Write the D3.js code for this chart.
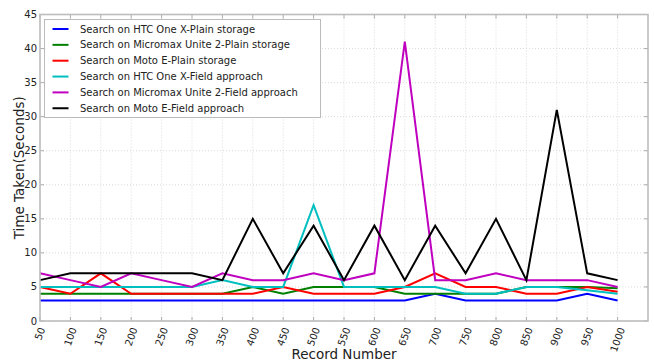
<!DOCTYPE html>
<html>
<head>
<meta charset="utf-8">
<script src="https://cdn.jsdelivr.net/npm/d3@7"></script>
<style>
  body { margin: 0; background: #fff; }
  svg { display: block; font-family: 'DejaVu Sans', sans-serif; }
</style>
</head>
<body>
<svg id="chart"></svg>
<script>
// record numbers on the x axis
const records = [50, 100, 150, 200, 250, 300, 350, 400, 450, 500, 550, 600, 650, 700, 750, 800, 850, 900, 950, 1000]

// time taken (seconds) per series
const htcPlain = [3, 3, 3, 3, 3, 3, 3, 3, 3, 3, 3, 3, 3, 4, 3, 3, 3, 3, 4, 3]
const micromaxPlain = [4, 4, 4, 4, 4, 4, 4, 5, 4, 5, 5, 5, 4, 4, 4, 4, 5, 5, 5, 4.8]
const motoPlain = [5, 4, 7, 4, 4, 4, 4, 4, 5, 4, 4, 4, 5, 7, 5, 5, 4, 4, 5, 4.3]
const htcField = [5, 5, 5, 5, 5, 5, 6, 5, 5, 17, 5, 5, 5, 5, 4, 4, 5, 5, 4.5, 4]
const micromaxField = [7, 6, 5, 7, 6, 5, 7, 6, 6, 7, 6, 7, 41, 6, 6, 7, 6, 6, 6, 5]
const motoField = [6, 7, 7, 7, 7, 7, 6, 15, 7, 14, 6, 14, 6, 14, 7, 15, 6, 31, 7, 6]

const seriesNames = [
    'Search on HTC One X-Plain storage',
    'Search on Micromax Unite 2-Plain storage',
    'Search on Moto E-Plain storage',
    'Search on HTC One X-Field approach',
    'Search on Micromax Unite 2-Field approach',
    'Search on Moto E-Field approach'
]
const seriesColors = ['#0000ff', '#008000', '#ff0000', '#00bfbf', '#bf00bf', '#000000']
const yTicks = [0, 5, 10, 15, 20, 25, 30, 35, 40, 45]

const series = [htcPlain, micromaxPlain, motoPlain, htcField, micromaxField, motoField]
    .map((vals, i) => ({ name: seriesNames[i], color: seriesColors[i], values: vals }))

const width = 654
const height = 363
const mLeft = 40, mRight = 648, mTop = 14.5, mBottom = 321

const svg = d3.select('#chart').attr('width', width).attr('height', height)

const x = d3.scaleLinear().domain([50, 1050]).range([mLeft, mRight])
const y = d3.scaleLinear().domain([0, 45]).range([mBottom, mTop])

// grid
const grid = svg.append('g')
    .attr('stroke', '#d0d0d0')
    .attr('stroke-width', 0.8)
    .attr('stroke-dasharray', '1,2')
grid.selectAll('line.v').data(records).join('line')
    .attr('class', 'v')
    .attr('x1', d => x(d)).attr('x2', d => x(d))
    .attr('y1', mTop).attr('y2', mBottom)
grid.selectAll('line.h').data(yTicks).join('line')
    .attr('class', 'h')
    .attr('y1', d => y(d)).attr('y2', d => y(d))
    .attr('x1', mLeft).attr('x2', mRight)

// inner ticks
const ticks = svg.append('g').attr('stroke', '#999').attr('stroke-width', 0.8)
records.forEach(d => {
    ticks.append('line').attr('x1', x(d)).attr('x2', x(d)).attr('y1', mBottom).attr('y2', mBottom - 4)
    ticks.append('line').attr('x1', x(d)).attr('x2', x(d)).attr('y1', mTop).attr('y2', mTop + 4)
})
yTicks.forEach(d => {
    ticks.append('line').attr('x1', mLeft).attr('x2', mLeft + 4).attr('y1', y(d)).attr('y2', y(d))
    ticks.append('line').attr('x1', mRight).attr('x2', mRight - 4).attr('y1', y(d)).attr('y2', y(d))
})

// lines
const line = d3.line()
    .x((d, i) => x(records[i]))
    .y(d => y(d))

svg.append('g')
    .selectAll('path')
    .data(series)
    .join('path')
    .attr('fill', 'none')
    .attr('stroke', d => d.color)
    .attr('stroke-width', 2)
    .attr('stroke-linejoin', 'miter')
    .attr('d', d => line(d.values))

// frame
svg.append('rect')
    .attr('x', mLeft).attr('y', mTop)
    .attr('width', mRight - mLeft).attr('height', mBottom - mTop)
    .attr('fill', 'none')
    .attr('stroke', '#bdbdbd')
    .attr('stroke-width', 1.6)

// y tick labels
svg.append('g')
    .selectAll('text')
    .data(yTicks)
    .join('text')
    .attr('x', mLeft - 3)
    .attr('y', d => y(d))
    .attr('dy', '0.35em')
    .attr('text-anchor', 'end')
    .attr('font-size', 10)
    .attr('fill', '#222')
    .text(d => d)

// x tick labels, rotated 70deg, centred on tick like matplotlib
const ang = 70 * Math.PI / 180
const fs = 10
const xl = svg.append('g')
records.forEach(d => {
    const t = xl.append('text')
        .attr('font-size', fs)
        .attr('fill', '#222')
        .attr('text-anchor', 'middle')
        .attr('dominant-baseline', 'central')
        .text(d)
    const w = t.node().getComputedTextLength()
    const h = w * Math.sin(ang) + fs * Math.cos(ang)
    t.attr('transform', `translate(${x(d)},${mBottom + 5 + h / 2}) rotate(-70)`)
})

// axis titles
svg.append('text')
    .attr('x', (mLeft + mRight) / 2)
    .attr('y', 359)
    .attr('text-anchor', 'middle')
    .attr('font-size', 13.5)
    .attr('fill', '#222')
    .text('Record Number')

svg.append('text')
    .attr('transform', `translate(19,${(mTop + mBottom) / 2}) rotate(-90)`)
    .attr('text-anchor', 'middle')
    .attr('dominant-baseline', 'central')
    .attr('font-size', 13.5)
    .attr('fill', '#222')
    .text('Time Taken(Seconds)')

// legend
const lg = svg.append('g').attr('transform', 'translate(44.5,19.5)')
lg.append('rect')
    .attr('width', 276).attr('height', 98)
    .attr('fill', '#fff')
    .attr('stroke', '#bbb')
    .attr('stroke-width', 1)
const item = lg.selectAll('g.item')
    .data(series)
    .join('g')
    .attr('class', 'item')
    .attr('transform', (d, i) => `translate(0,${9.5 + i * 15.85})`)
item.append('line')
    .attr('x1', 8).attr('x2', 24)
    .attr('stroke', d => d.color)
    .attr('stroke-width', 2)
item.append('text')
    .attr('x', 35.5)
    .attr('dy', '0.35em')
    .attr('font-size', 10)
    .attr('fill', '#222')
    .text(d => d.name)
</script>
</body>
</html>
